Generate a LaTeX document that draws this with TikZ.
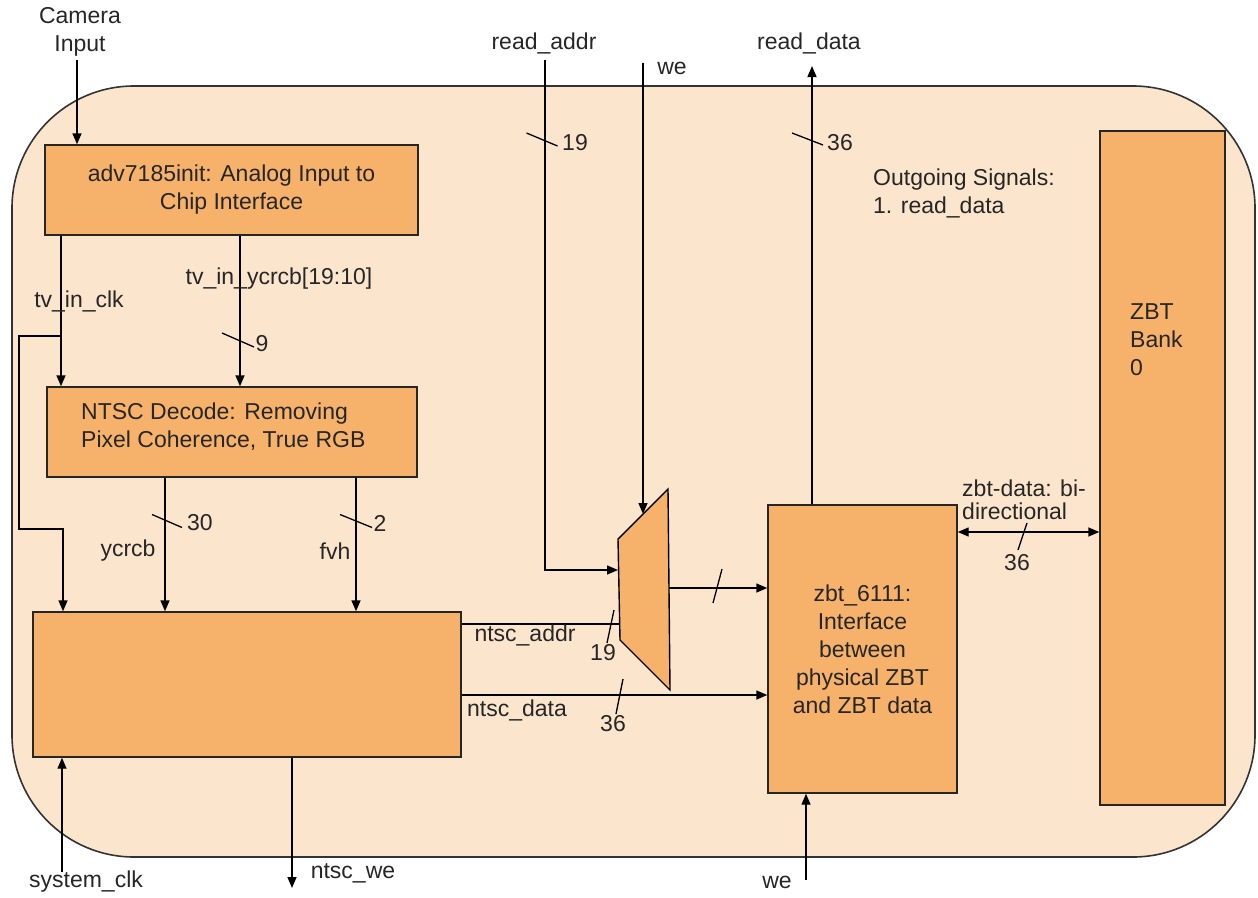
\documentclass[tikz,border=0pt]{standalone}
\usepackage{fontspec}
\setmainfont{Liberation Sans}
\usetikzlibrary{arrows.meta}
\definecolor{bgc}{HTML}{FCE5CD}
\definecolor{boxc}{HTML}{F6B26B}
\definecolor{txt}{HTML}{262626}
\begin{document}
\begin{tikzpicture}[x=1pt,y=-1pt,
  every node/.style={font=\fontsize{23}{28}\selectfont, text=txt, inner sep=0pt},
  blk/.style={draw=black!85, fill=boxc, line width=1.4pt, align=center},
  wire/.style={draw=black, line width=1.4pt},
  arr/.style={wire, -{Triangle[length=11pt,width=9pt]}},
  darr/.style={wire, {Triangle[length=11pt,width=9pt]}-{Triangle[length=11pt,width=9pt]}},
  bus/.style={draw=black, line width=1.3pt},
  lbl/.style={align=center}]
\useasboundingbox (0,0) rectangle (1258,897);
% outer container
\draw[fill=bgc, draw=black!80, line width=1.6pt, rounded corners=122pt] (12,86) rectangle (1255,857);

% blocks
\node[blk, minimum width=373pt, minimum height=90pt] (adv) at (231.5,190) {adv7185init: Analog Input to\\Chip Interface};
\node[blk, minimum width=370pt, minimum height=90pt] (ntsc) at (232,432) {};
\node[anchor=west, align=left] (ntsctxt) at (81,427) {NTSC Decode: Removing\\Pixel Coherence, True RGB};
\node[blk, minimum width=428pt, minimum height=145pt] (ctrl) at (247,684.5) {};
\node[blk, minimum width=189pt, minimum height=288pt] (zbt) at (862.5,649) {zbt\_6111:\\Interface\\between\\physical ZBT\\and ZBT data};
\node[blk, minimum width=125pt, minimum height=674pt] (bank) at (1162.5,468) {};
\node[anchor=west, align=left] (banktxt) at (1130,340) {ZBT\\Bank\\0};

% mux
\coordinate (m1) at (618,539);
\coordinate (m2) at (668,489);
\coordinate (m3) at (670,690);
\coordinate (m4) at (620,640);
\draw[fill=boxc, draw=black, line width=1.4pt] (m1) -- (m2) -- (m3) -- (m4) -- cycle;
\coordinate (muxA) at (619.5,624);
\coordinate (muxR) at (618,570);
\coordinate (muxO) at (669,588);
\coordinate (muxW) at (643,514);

% free ends
\coordinate (camin) at (77,60);
\coordinate (xclk) at (61,0);
\coordinate (xyc) at (240,0);
\coordinate (xycr) at (165,0);
\coordinate (xfvh) at (356,0);
\coordinate (xsys) at (62,0);
\coordinate (sysin) at (62,872);
\coordinate (weout) at (292,888);
\coordinate (xwe) at (292,0);
\coordinate (rain) at (545,60);
\coordinate (wein) at (643,63);
\coordinate (rdout) at (812,66);
\coordinate (xrd) at (812,0);
\coordinate (we2in) at (806,880);
\coordinate (ya) at (0,624);
\coordinate (yd) at (0,695);
\coordinate (yz) at (0,532);

% connectors
\draw[arr] (camin) -- (camin |- adv.north);
\draw[arr] (xclk |- adv.south) -- (xclk |- ntsc.north);
\draw[arr] (xyc |- adv.south) -- (xyc |- ntsc.north);
\draw[arr] (61,336) -- (19,336) -- (19,529) -- (63,529) -- (63,0 |- ctrl.north);
\draw[arr] (xycr |- ntsc.south) -- (xycr |- ctrl.north);
\draw[arr] (xfvh |- ntsc.south) -- (xfvh |- ctrl.north);
\draw[arr] (sysin) -- (xsys |- ctrl.south);
\draw[arr] (xwe |- ctrl.south) -- (weout);
\draw[wire] (ctrl.east |- ya) -- (muxA);
\draw[arr] (ctrl.east |- yd) -- (zbt.west |- yd);
\draw[arr] (rain) -- (rain |- muxR) -- (muxR);
\draw[arr] (wein) -- (muxW);
\draw[arr] (muxO) -- (zbt.west |- muxO);
\draw[arr] (xrd |- zbt.north) -- (rdout);
\draw[arr] (we2in) -- (we2in |- zbt.south);
\draw[darr] (zbt.east |- yz) -- (bank.west |- yz);

% bus-width slashes
\draw[bus] (238,340) ++(-16,-7) -- ++(32,14);
\draw[bus] (167,521) ++(-15,-6.5) -- ++(30,13);
\draw[bus] (356,521) ++(-16,-6.5) -- ++(32,13);
\draw[bus] (542,139.5) ++(-15.5,-6.5) -- ++(31,13);
\draw[bus] (807.5,139) ++(-15.5,-6) -- ++(31,12);
\draw[bus] (610.5,626.5) ++(3.5,-16.5) -- ++(-7,33);
\draw[bus] (619.5,696.5) ++(3.5,-17.5) -- ++(-7,35);
\draw[bus] (717.5,586) ++(4.5,-17) -- ++(-9,34);
\draw[bus] (1022.5,536.5) ++(4.5,-13.5) -- ++(-9,27);

% labels
\node[lbl] (lcam) at (80,32) {Camera\\Input};
\node (lclk) at (79,301) {tv\_in\_clk};
\node (lyc) at (279,279) {tv\_in\_ycrcb[19:10]};
\node (l9) at (262,344) {9};
\node (l30) at (200,523) {30};
\node (l2) at (380,523) {2};
\node (lycr) at (128,551) {ycrcb};
\node (lfvh) at (335,551) {fvh};
\node (lsys) at (86,882) {system\_clk};
\node (lnwe) at (353,873) {ntsc\_we};
\node (lra) at (544,43) {read\_addr};
\node (l19a) at (575,143) {19};
\node (lwe) at (672,68) {we};
\node (lrd) at (809,43) {read\_data};
\node (l36a) at (840,143) {36};
\node[anchor=west, align=left] (lout) at (873,193) {Outgoing Signals:\\1. read\_data};
\node (lna) at (525,635) {ntsc\_addr};
\node (l19b) at (603,653) {19};
\node (lnd) at (517,710) {ntsc\_data};
\node (l36b) at (613,724) {36};
\node[anchor=west, align=left, font=\fontsize{23}{23}\selectfont] (lzd) at (962,500) {zbt-data: bi-\\directional};
\node (l36c) at (1017,563) {36};
\node (lwe2) at (777,882) {we};
\end{tikzpicture}
\end{document}
